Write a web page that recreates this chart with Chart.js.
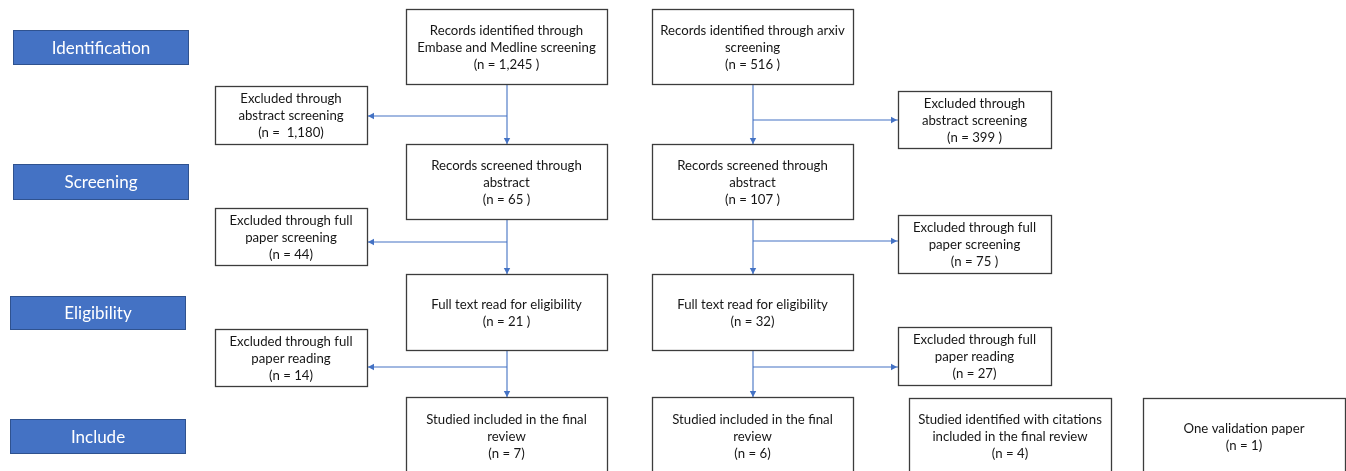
<!DOCTYPE html>
<html>
<head>
<meta charset="utf-8">
<script src="https://cdn.jsdelivr.net/npm/chart.js@4/dist/chart.umd.min.js"></script>
<style>
  html, body { margin: 0; padding: 0; background: #ffffff; }
  #wrap { width: 1346px; height: 471px; position: relative; }
</style>
</head>
<body>
<div id="wrap"><canvas id="c"></canvas></div>
<script>
// ---------- data ----------
const stages = ['Identification', 'Screening', 'Eligibility', 'Include'];

const embaseTitles = [
  'Records identified through\nEmbase and Medline screening',
  'Records screened through\nabstract',
  'Full text read for eligibility',
  'Studied included in the final\nreview'
];
const embaseCounts = [1245, 65, 21, 7];

const arxivTitles = [
  'Records identified through arxiv\nscreening',
  'Records screened through\nabstract',
  'Full text read for eligibility',
  'Studied included in the final\nreview'
];
const arxivCounts = [516, 107, 32, 6];

const excludedTitles = [
  'Excluded through\nabstract screening',
  'Excluded through full\npaper screening',
  'Excluded through full\npaper reading'
];
const embaseExcluded = [1180, 44, 14];
const arxivExcluded = [399, 75, 27];

const extraTitles = [
  'Studied identified with citations\nincluded in the final review',
  'One validation paper'
];
const extraCounts = [4, 1];

// ---------- layout (canvas units, 0..1346 x 0..471) ----------
const stageBoxes = [[13, 188, 30, 64], [13, 188, 164, 199], [10, 185, 296, 329], [10, 185, 419, 453]];
const col1X = [406, 607], col2X = [652, 853];
const mainRows = [[9, 84], [144, 219], [274, 350], [397, 478]];
const leftExclX = [215, 367];
const leftExclRows = [[86, 144], [208, 265], [329, 386]];
const rightExclX = [898, 1051];
const rightExclRows = [[91, 148], [215, 273], [327, 385]];
const leftArrowY = [116, 242, 367];
const rightArrowY = [120, 241, 367];
const extraBoxes = [[909, 1111, 398, 478], [1143, 1345, 398, 478]];
const col1Mid = 507, col2Mid = 753;

const fmt = (n, pad) => '(n =' + (pad === 2 ? '  ' : ' ') + n.toLocaleString('en-US') + (pad === 1 ? ' )' : ')');
const embasePad = [1, 1, 1, 0], arxivPad = [1, 1, 0, 0];
const embaseExclPad = [2, 0, 0], arxivExclPad = [1, 1, 0];

const BLUE = '#4472C4';
const FONT = 'Lato, "Open Sans", sans-serif';

// connector datasets (lines) built from layout
const connectorSets = [];
function seg(pts) {
  connectorSets.push({
    data: pts.map(p => ({ x: p[0], y: p[1] })),
    showLine: true, borderColor: BLUE, borderWidth: 1.1,
    pointRadius: 0, fill: false, tension: 0
  });
}
[col1Mid, col2Mid].forEach(cx => {
  for (let i = 0; i < 3; i++) seg([[cx, mainRows[i][1]], [cx, mainRows[i + 1][0]]]);
});
for (let i = 0; i < 3; i++) {
  seg([[col1Mid, leftArrowY[i]], [leftExclX[1], leftArrowY[i]]]);
  seg([[col2Mid, rightArrowY[i]], [rightExclX[0], rightArrowY[i]]]);
}

const flowPlugin = {
  id: 'flow',
  afterDatasetsDraw(chart) {
    const { ctx, scales } = chart;
    const px = v => scales.x.getPixelForValue(v);
    const py = v => scales.y.getPixelForValue(v);
    ctx.save();

    // arrowheads
    function head(x, y, dir) {
      const X = px(x), Y = py(y), L = 6, W = 3.2;
      ctx.fillStyle = BLUE;
      ctx.beginPath();
      if (dir === 'down') { ctx.moveTo(X, Y); ctx.lineTo(X - W, Y - L); ctx.lineTo(X + W, Y - L); }
      if (dir === 'left') { ctx.moveTo(X, Y); ctx.lineTo(X + L, Y - W); ctx.lineTo(X + L, Y + W); }
      if (dir === 'right') { ctx.moveTo(X, Y); ctx.lineTo(X - L, Y - W); ctx.lineTo(X - L, Y + W); }
      ctx.closePath(); ctx.fill();
    }
    [col1Mid, col2Mid].forEach(cx => { for (let i = 1; i < 4; i++) head(cx, mainRows[i][0], 'down'); });
    for (let i = 0; i < 3; i++) { head(leftExclX[1] + 1, leftArrowY[i], 'left'); head(rightExclX[0] - 1, rightArrowY[i], 'right'); }

    // white boxes with text
    function box(x0, x1, y0, y1, lines) {
      const X0 = Math.round(px(x0)) + 0.5, X1 = Math.round(px(x1)) + 0.5;
      const Y0 = Math.round(py(y0)) + 0.5, Y1 = Math.round(py(y1)) + 0.5;
      ctx.fillStyle = '#ffffff';
      ctx.fillRect(X0, Y0, X1 - X0, Y1 - Y0);
      ctx.strokeStyle = '#3c3c3c'; ctx.lineWidth = 1.3;
      ctx.strokeRect(X0, Y0, X1 - X0, Y1 - Y0);
      const cx = (px(x0) + px(x1)) / 2;
      const cy = (py(y0) + py(Math.min(y1, 474))) / 2 + 1;
      const lh = 17.2;
      ctx.fillStyle = '#161616';
      ctx.font = '13.2px ' + FONT;
      ctx.textAlign = 'center'; ctx.textBaseline = 'middle';
      lines.forEach((t, k) => ctx.fillText(t, cx, cy + (k - (lines.length - 1) / 2) * lh));
    }
    for (let i = 0; i < 4; i++) {
      box(col1X[0], col1X[1], mainRows[i][0], mainRows[i][1], embaseTitles[i].split('\n').concat(fmt(embaseCounts[i], embasePad[i])));
      box(col2X[0], col2X[1], mainRows[i][0], mainRows[i][1], arxivTitles[i].split('\n').concat(fmt(arxivCounts[i], arxivPad[i])));
    }
    for (let i = 0; i < 3; i++) {
      box(leftExclX[0], leftExclX[1], leftExclRows[i][0], leftExclRows[i][1], excludedTitles[i].split('\n').concat(fmt(embaseExcluded[i], embaseExclPad[i])));
      box(rightExclX[0], rightExclX[1], rightExclRows[i][0], rightExclRows[i][1], excludedTitles[i].split('\n').concat(fmt(arxivExcluded[i], arxivExclPad[i])));
    }
    extraBoxes.forEach((b, i) => box(b[0], b[1], b[2], b[3], extraTitles[i].split('\n').concat(fmt(extraCounts[i], 0))));

    // stage labels
    stages.forEach((s, i) => {
      const b = stageBoxes[i];
      const X0 = Math.round(px(b[0])) + 0.5, X1 = Math.round(px(b[1])) + 0.5;
      const Y0 = Math.round(py(b[2])) + 0.5, Y1 = Math.round(py(b[3])) + 0.5;
      ctx.fillStyle = BLUE; ctx.fillRect(X0, Y0, X1 - X0, Y1 - Y0);
      ctx.strokeStyle = '#2F528F'; ctx.lineWidth = 1; ctx.strokeRect(X0, Y0, X1 - X0, Y1 - Y0);
      ctx.fillStyle = '#ffffff'; ctx.font = '17px ' + FONT;
      ctx.textAlign = 'center'; ctx.textBaseline = 'middle';
      ctx.fillText(s, (X0 + X1) / 2, (Y0 + Y1) / 2 + 1);
    });
    ctx.restore();
  }
};

new Chart(document.getElementById('c'), {
  type: 'scatter',
  data: { datasets: connectorSets },
  options: {
    responsive: true, maintainAspectRatio: false, animation: false,
    layout: { padding: 0 },
    plugins: { legend: { display: false }, tooltip: { enabled: false } },
    scales: {
      x: { type: 'linear', min: 0, max: 1346, display: false },
      y: { type: 'linear', min: 0, max: 471, reverse: true, display: false }
    }
  },
  plugins: [flowPlugin]
});
</script>
</body>
</html>
